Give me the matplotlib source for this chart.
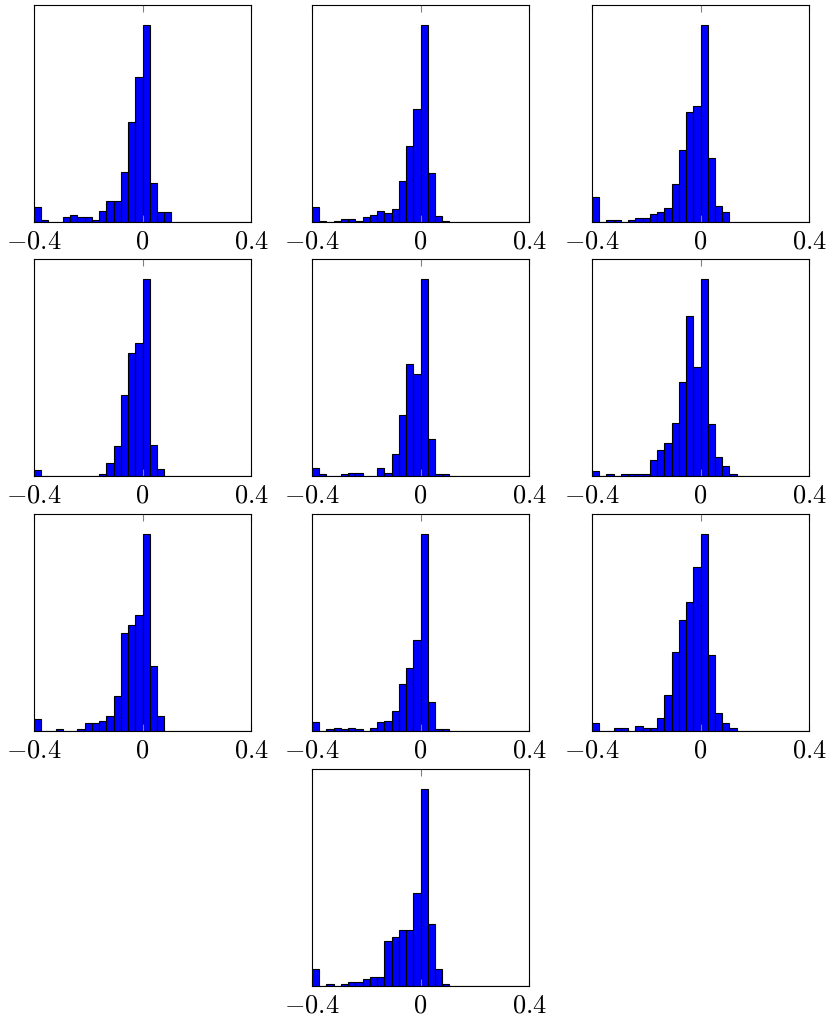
import numpy as np
import matplotlib.pyplot as plt

plt.rcParams['mathtext.fontset'] = 'cm'

# 30 bins between -0.4 and 0.4, heights relative to the tallest bin
edges = np.linspace(-0.4, 0.4, 31)

h1 = [0.078, 0.010, 0, 0, 0.027, 0.037, 0.027, 0.027, 0.010, 0.057, 0.106, 0.106, 0.255, 0.508, 0.735,
      1.0, 0.196, 0.049, 0.049, 0, 0, 0, 0, 0, 0, 0, 0, 0, 0, 0]
h2 = [0.074, 0.007, 0, 0.007, 0.017, 0.017, 0.007, 0.024, 0.034, 0.057, 0.047, 0.066, 0.209, 0.387, 0.573,
      1.0, 0.250, 0.032, 0.007, 0, 0, 0, 0, 0, 0, 0, 0, 0, 0, 0]
h3 = [0.125, 0, 0.010, 0.010, 0, 0.010, 0.020, 0.020, 0.041, 0.052, 0.073, 0.193, 0.367, 0.556, 0.590,
      1.0, 0.326, 0.083, 0.052, 0, 0, 0, 0, 0, 0, 0, 0, 0, 0, 0]
h4 = [0.029, 0, 0, 0, 0, 0, 0, 0, 0, 0.008, 0.066, 0.150, 0.411, 0.626, 0.673,
      1.0, 0.159, 0.037, 0, 0, 0, 0, 0, 0, 0, 0, 0, 0, 0, 0]
h5 = [0.042, 0.008, 0, 0, 0.008, 0.017, 0.017, 0, 0, 0.042, 0.017, 0.111, 0.307, 0.568, 0.518,
      1.0, 0.187, 0.008, 0.008, 0, 0, 0, 0, 0, 0, 0, 0, 0, 0, 0]
h6 = [0.025, 0, 0.012, 0, 0.012, 0.012, 0.012, 0.012, 0.083, 0.132, 0.165, 0.271, 0.474, 0.811, 0.553,
      1.0, 0.263, 0.096, 0.049, 0.012, 0, 0, 0, 0, 0, 0, 0, 0, 0, 0]
h7 = [0.062, 0, 0, 0.008, 0, 0, 0.008, 0.040, 0.040, 0.052, 0.074, 0.175, 0.496, 0.536, 0.589,
      1.0, 0.331, 0.074, 0, 0, 0, 0, 0, 0, 0, 0, 0, 0, 0, 0]
h8 = [0.044, 0, 0.008, 0.015, 0.008, 0.015, 0.008, 0, 0.015, 0.044, 0.052, 0.103, 0.238, 0.319, 0.460,
      1.0, 0.148, 0.008, 0.008, 0, 0, 0, 0, 0, 0, 0, 0, 0, 0, 0]
h9 = [0.039, 0, 0, 0.013, 0.013, 0, 0.027, 0.013, 0.013, 0.064, 0.180, 0.400, 0.565, 0.654, 0.833,
      1.0, 0.384, 0.089, 0.039, 0.013, 0, 0, 0, 0, 0, 0, 0, 0, 0, 0]
h10 = [0.086, 0, 0.010, 0, 0.010, 0.020, 0.020, 0.037, 0.047, 0.047, 0.230, 0.248, 0.285, 0.285, 0.470,
       1.0, 0.316, 0.086, 0.010, 0, 0, 0, 0, 0, 0, 0, 0, 0, 0, 0]

hists = [h1, h2, h3, h4, h5, h6, h7, h8, h9, h10]
xticks = [-0.4, 0, 0.4]
xticklabels = ['$-0.4$', '$0$', '$0.4$']

W, H = 831, 1019
fig = plt.figure(figsize=(W / 100, H / 100), dpi=100)

cols = [34, 312, 592]
rows = [5, 259, 514, 769]
size = 217
slots = [(r, c) for r in range(3) for c in range(3)] + [(3, 1)]

for h, (r, c) in zip(hists, slots):
    ax = fig.add_axes([cols[c] / W, 1 - (rows[r] + size) / H, size / W, size / H])
    ax.bar(edges[:-1], h, width=np.diff(edges), align='edge', color='#0000ff',
           edgecolor='black', linewidth=0.8)
    ax.set_xlim(-0.4, 0.4)
    ax.set_ylim(0, 1.1)
    ax.set_xticks(xticks)
    ax.set_xticklabels(xticklabels, fontsize=19)
    ax.set_yticks([])
    ax.tick_params(axis='x', direction='in', length=5, color='gray', top=True, pad=5)
    for s in ax.spines.values():
        s.set_linewidth(0.8)

plt.savefig('out.png', dpi=100)
